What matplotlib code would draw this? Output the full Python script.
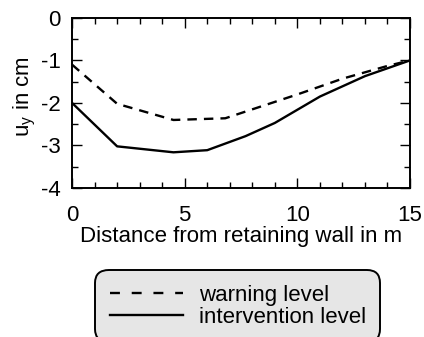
import matplotlib
matplotlib.use("Agg")
import matplotlib.pyplot as plt
from matplotlib.lines import Line2D
from matplotlib.ticker import MultipleLocator

# values
warning_x = [0, 2, 4.5, 6.8, 8, 10, 12, 14, 15]
warning_y = [-1.1, -2.02, -2.4, -2.36, -2.15, -1.8, -1.43, -1.13, -1.0]
intervention_x = [0, 2, 4.5, 6, 7.7, 9, 11, 13, 15]
intervention_y = [-2.0, -3.02, -3.16, -3.11, -2.78, -2.47, -1.85, -1.37, -1.0]

x_ticks = [0, 5, 10, 15]
y_ticks = [0, -1, -2, -3, -4]
series_labels = ["warning level", "intervention level"]

plt.rcParams["font.family"] = ["Liberation Sans", "DejaVu Sans"]
plt.rcParams["axes.unicode_minus"] = False
plt.rcParams["mathtext.fontset"] = "custom"
plt.rcParams["mathtext.rm"] = "Liberation Sans"


def main():
    fig = plt.figure(figsize=(4.24, 3.37), dpi=100)
    ax = fig.add_axes([0.170, 0.442, 0.797, 0.505])

    ax.plot(warning_x, warning_y, color="black", lw=1.7, dashes=(4, 3))
    ax.plot(intervention_x, intervention_y, color="black", lw=1.7)

    ax.set_xlim(0, 15)
    ax.set_ylim(-4, 0)
    ax.set_xticks(x_ticks)
    ax.set_yticks(y_ticks)
    ax.xaxis.set_minor_locator(MultipleLocator(1))
    ax.yaxis.set_minor_locator(MultipleLocator(0.5))
    ax.tick_params(which="both", direction="in", top=True, right=True,
                   width=1.0, labelsize=16)
    ax.tick_params(axis="x", which="major", pad=12)
    ax.tick_params(axis="y", which="major", pad=8)
    ax.tick_params(which="major", length=7)
    ax.tick_params(which="minor", length=4)
    for s in ax.spines.values():
        s.set_linewidth(1.4)

    ax.set_xlabel("Distance from retaining wall in m", fontsize=16, labelpad=0)
    ax.set_ylabel(r"u$_\mathregular{y}$ in cm", fontsize=16)
    ax.yaxis.set_label_coords(-0.10, 0.54)

    # legend handles drawn with the wider dash spacing seen in the box
    handles = [
        Line2D([], [], color="black", lw=1.7, dashes=(4.2, 5)),
        Line2D([], [], color="black", lw=1.7),
    ]
    leg = fig.legend(handles, series_labels, loc="lower center",
                     bbox_to_anchor=(0.561, -0.048),
                     fontsize=16, frameon=True, fancybox=True,
                     facecolor="#e6e6e6", edgecolor="black", framealpha=1,
                     handlelength=3.3, handletextpad=0.7, labelspacing=0.05,
                     borderpad=0.65)
    leg.get_frame().set_boxstyle("round", pad=0, rounding_size=0.6)
    leg.get_frame().set_linewidth(1.4)

    fig.savefig("out.png", dpi=100)


if __name__ == "__main__":
    main()
